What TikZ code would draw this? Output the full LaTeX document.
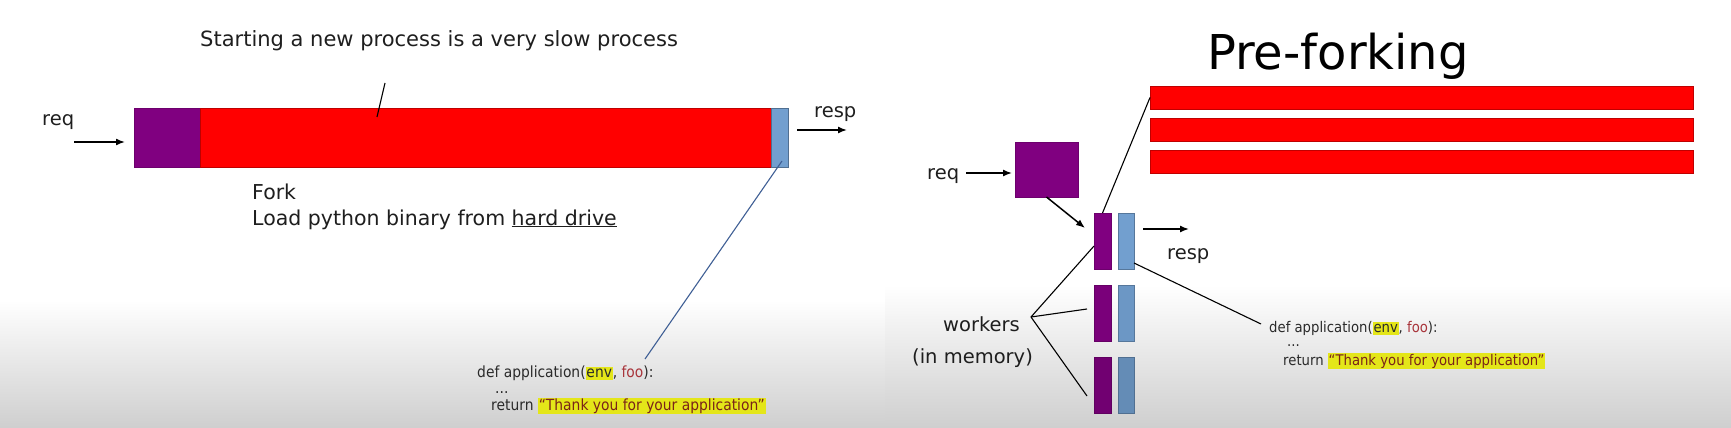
\documentclass[tikz,border=0pt]{standalone}
\usepackage{fontspec}
\setmainfont{DejaVu Sans}
\newfontfamily\codefont[FakeStretch=0.9]{DejaVu Sans}
\usetikzlibrary{arrows.meta}
\definecolor{purp}{HTML}{800080}
\definecolor{redbar}{HTML}{FF0000}
\definecolor{bluebar}{HTML}{729FCF}
\definecolor{hly}{HTML}{E4E619}
\definecolor{strc}{HTML}{7A2418}
\definecolor{fooc}{HTML}{A8333A}
\definecolor{codec}{HTML}{2A2A2A}
\definecolor{txt}{HTML}{1E1E1E}
\definecolor{linkblue}{HTML}{3F5F95}
\newcommand{\hlbox}[1]{{\setlength{\fboxsep}{0.8pt}\colorbox{hly}{\rule[-2.5pt]{0pt}{12pt}#1}}}
\begin{document}
\begin{tikzpicture}[x=1pt,y=-1pt,
  box/.style={draw, line width=0.6pt, inner sep=0pt, outer sep=0pt, anchor=north west},
  lbl/.style={inner sep=0pt, text=txt, font=\fontsize{20.5}{24}\selectfont, anchor=base west},
  slbl/.style={inner sep=0pt, text=txt, font=\fontsize{19.5}{23}\selectfont, anchor=base west},
  arr/.style={-{Latex[length=9pt,width=7pt]}, line width=1.5pt, black},
  thinline/.style={line width=1.1pt, black},
  lcode/.style={inner sep=0pt, anchor=base west, text=codec, font=\codefont\fontsize{15.4}{18}\selectfont},
  rcode/.style={inner sep=0pt, anchor=base west, text=codec, font=\codefont\fontsize{14.7}{17}\selectfont}]
\useasboundingbox (0,0) rectangle (1731,428);
\fill[white] (0,0) rectangle (1731,428);
\shade[top color=white, bottom color=black!19] (0,300) rectangle (885,428);
\shade[top color=white, bottom color=black!19] (885,285) rectangle (1731,428);

% ---------- left panel ----------
\node[lbl, font=\fontsize{21}{25}\selectfont] (ltitle) at (200,47) {Starting a new process is a very slow process};
\node[box, fill=purp, draw=purp!85!black, minimum width=66pt, minimum height=59pt] (lp) at (134,108) {};
\node[box, fill=redbar, draw=red!75!black, minimum width=571pt, minimum height=59pt] (lr) at (200,108) {};
\node[box, fill=bluebar, draw=bluebar!70!black, minimum width=17pt, minimum height=59pt] (lb) at (771,108) {};
\node[slbl] (lreq) at (42,125) {req};
\node[slbl] (lresp) at (814,117) {resp};
\node[lbl] (fork) at (252,199) {Fork};
\node[lbl] (load) at (252,225) {Load python binary from \underline{hard drive}};

\coordinate (ta) at (385,83);
\coordinate (tb) at (377,117);
\draw[thinline] (ta) -- (tb);
\coordinate (rqs) at (74,142);
\draw[arr, shorten >=9pt] (rqs) -- (lp.west |- rqs);
\coordinate (rss) at (797,130);
\coordinate (rse) at (847,130);
\draw[arr] (rss) -- (rse);

\node[lcode] (ldef) at (477,377) {def application(\hlbox{env}, \textcolor{fooc}{foo}):};
\node[lcode] (ldots) at (495,393) {...};
\node[lcode] (lret) at (491,410) {return \hlbox{\textcolor{strc}{“Thank you for your application”}}};
\coordinate (lbs) at (782,161);
\coordinate (lbe) at (645,359);
\draw[linkblue, line width=1.1pt] (lbs) -- (lbe);

% ---------- right panel ----------
\node[anchor=base, inner sep=0pt, text=black, font=\fontsize{48}{56}\selectfont] (ptitle) at (1338,70) {Pre-forking};
\node[box, fill=redbar, draw=red!75!black, minimum width=543pt, minimum height=23pt] (r1) at (1150,86) {};
\node[box, fill=redbar, draw=red!75!black, minimum width=543pt, minimum height=23pt] (r2) at (1150,118) {};
\node[box, fill=redbar, draw=red!75!black, minimum width=543pt, minimum height=23pt] (r3) at (1150,150) {};

\node[slbl] (rreq) at (927,179) {req};
\coordinate (rrq) at (966,173);
\node[box, fill=purp, draw=purp!85!black, minimum width=63pt, minimum height=55pt] (rp) at (1015,142) {};
\draw[arr, shorten >=3pt] (rrq) -- (rp.west |- rrq);

\node[box, fill=purp, draw=purp!85!black, minimum width=17pt, minimum height=56pt] (w1p) at (1094,213) {};
\node[box, fill=bluebar, draw=bluebar!75!black, minimum width=16pt, minimum height=56pt] (w1b) at (1118,213) {};
\node[box, fill=purp!95!black, draw=purp!80!black, minimum width=17pt, minimum height=56pt] (w2p) at (1094,285) {};
\node[box, fill=bluebar!95!black, draw=bluebar!75!black, minimum width=16pt, minimum height=56pt] (w2b) at (1118,285) {};
\node[box, fill=purp!88!black, draw=purp!75!black, minimum width=17pt, minimum height=56pt] (w3p) at (1094,357) {};
\node[box, fill=bluebar!88!black, draw=bluebar!70!black, minimum width=16pt, minimum height=56pt] (w3b) at (1118,357) {};

\coordinate (w1in) at (1085,228);
\draw[arr] (rp.south) -- (w1in);
\draw[thinline] (w1p.north) -- (r1.west);
\coordinate (rrs) at (1143,229);
\coordinate (rre) at (1189,229);
\draw[arr] (rrs) -- (rre);
\node[slbl] (rresp) at (1167,259) {resp};

\node[slbl] (workers) at (943,331) {workers};
\node[slbl] (inmem) at (912,363) {(in memory)};
\coordinate (wj) at (1031,317);
\draw[thinline] (wj) -- ([yshift=-5pt]w1p.west);
\draw[thinline] (wj) -- ([xshift=-7pt,yshift=4pt]w2p.west);
\draw[thinline] (wj) -- ([xshift=-7pt,yshift=-11pt]w3p.west);

\node[rcode] (rdef) at (1269,332) {def application(\hlbox{env}, \textcolor{fooc}{foo}):};
\node[rcode] (rdots) at (1287,346) {...};
\node[rcode] (rret) at (1283,365) {return \hlbox{\textcolor{strc}{“Thank you for your application”}}};
\coordinate (rbe) at (1261,324);
\draw[thinline] ([yshift=6pt]w1b.south east) -- (rbe);
\end{tikzpicture}
\end{document}
